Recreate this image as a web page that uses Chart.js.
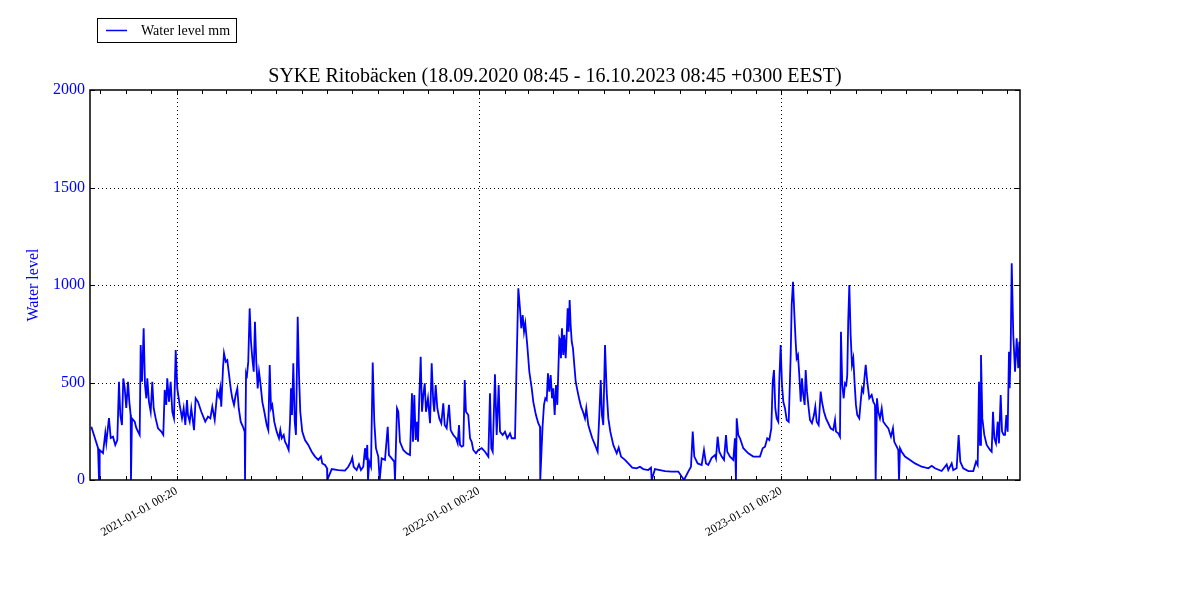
<!DOCTYPE html>
<html>
<head>
<meta charset="utf-8">
<script src="https://cdn.jsdelivr.net/npm/chart.js@4.4.0/dist/chart.umd.min.js"></script>
<style>
body { margin: 0; background: #fff; }
#wrap { width: 1200px; height: 600px; }
</style>
</head>
<body>
<div id="wrap"><canvas id="myChart" width="1200" height="600"></canvas></div>
<script>
const titleText = 'SYKE Ritobäcken (18.09.2020 08:45 - 16.10.2023 08:45 +0300 EEST)';
const seriesLabel = 'Water level mm';
const yTitle = 'Water level';
const yearTickLabels = ['2021-01-01 00:20', '2022-01-01 00:20', '2023-01-01 00:20'];
const yTicks = [0, 500, 1000, 1500, 2000];

// days since 18.09.2020 08:45
const days = [
    1.6, 9.7, 10.9, 11.7, 15.7, 18.5, 19.7, 22.9, 25.0, 27.8,
    30.5, 33.0, 35.0, 36.6, 38.6, 40.2, 41.9, 43.8, 45.9, 47.5,
    49.1, 49.5, 50.7, 54.0, 55.9, 58.0, 60.0, 61.2, 62.8, 64.8,
    66.4, 68.0, 69.2, 71.2, 73.3, 75.2, 76.9, 79.3, 82.1, 86.1,
    88.5, 90.2, 92.1, 93.3, 95.4, 97.4, 99.4, 101.4, 103.5, 105.4,
    108.3, 111.1, 113.1, 115.1, 117.1, 118.3, 120.4, 122.3, 125.6, 127.6,
    130.4, 134.4, 139.2, 142.5, 145.3, 147.7, 150.6, 153.7, 155.8, 157.3,
    158.5, 160.6, 161.8, 163.9, 165.8, 167.5, 169.9, 171.8, 173.9, 175.9,
    177.9, 179.6, 182.0, 184.7, 186.8, 187.2, 188.4, 189.2, 191.1, 192.8,
    194.4, 196.0, 197.7, 199.2, 200.8, 202.5, 204.1, 205.6, 208.1, 210.5,
    213.4, 215.3, 217.0, 218.6, 220.1, 222.5, 225.4, 228.2, 229.8, 231.5,
    233.9, 235.5, 237.5, 239.9, 241.5, 242.7, 243.9, 245.5, 247.2, 248.7,
    250.8, 252.4, 253.9, 256.3, 259.6, 263.6, 267.7, 271.7, 275.7, 278.9,
    280.5, 283.8, 286.2, 286.5, 291.9, 299.8, 307.9, 311.9, 315.2, 316.7,
    318.4, 322.0, 324.8, 327.2, 330.0, 332.1, 333.6, 334.8, 335.7, 337.3,
    339.3, 341.4, 343.3, 345.3, 348.1, 349.8, 352.2, 356.2, 359.5, 361.0,
    364.3, 367.4, 368.3, 370.7, 372.3, 374.3, 378.3, 382.4, 386.4, 388.8,
    390.0, 391.6, 393.3, 394.5, 396.1, 397.6, 399.3, 400.9, 402.5, 404.2,
    405.7, 408.1, 410.6, 412.6, 414.5, 415.7, 417.4, 419.4, 421.8, 424.2,
    426.6, 428.3, 430.7, 433.5, 435.5, 438.7, 442.0, 444.0, 445.6, 446.8,
    448.8, 450.8, 452.5, 454.0, 456.8, 458.9, 460.9, 462.8, 466.1, 468.9,
    473.0, 477.0, 481.0, 483.0, 484.6, 486.3, 489.0, 491.1, 493.5, 495.1,
    498.3, 501.1, 503.9, 507.2, 509.2, 513.2, 515.2, 517.2, 519.2, 520.8,
    522.5, 524.1, 525.6, 528.0, 530.5, 533.4, 535.3, 538.5, 541.3, 543.4,
    543.7, 546.6, 548.2, 549.8, 551.5, 553.0, 554.6, 556.3, 557.9, 559.4,
    561.1, 562.7, 564.3, 566.7, 567.5, 568.7, 569.9, 571.5, 572.7, 574.4,
    575.6, 576.8, 578.0, 579.2, 580.4, 581.7, 583.2, 584.8, 586.5, 588.4,
    590.5, 592.9, 595.3, 597.7, 599.3, 601.7, 604.1, 606.5, 609.8, 613.0,
    615.0, 616.7, 618.2, 619.8, 621.9, 623.9, 625.9, 628.3, 631.9, 636.0,
    638.4, 641.2, 646.0, 650.0, 654.8, 660.1, 664.1, 668.1, 674.1, 677.4,
    678.3, 682.2, 688.3, 694.3, 702.4, 710.4, 717.3, 722.4, 725.7, 727.8,
    729.7, 733.8, 738.6, 741.4, 743.8, 746.6, 750.7, 754.7, 755.9, 757.9,
    759.9, 762.8, 765.6, 768.0, 769.5, 772.8, 776.8, 778.8, 780.0, 780.9,
    782.8, 784.9, 788.9, 794.9, 800.9, 805.0, 809.0, 812.3, 815.1, 817.8,
    820.3, 822.7, 824.4, 825.9, 827.5, 829.2, 831.1, 832.3, 834.0, 835.6,
    837.2, 839.2, 841.3, 843.7, 846.1, 847.3, 848.9, 850.4, 852.1, 853.3,
    854.9, 856.5, 858.2, 859.7, 861.3, 863.0, 864.2, 865.8, 867.8, 869.4,
    871.8, 874.2, 875.8, 877.5, 879.9, 882.3, 883.9, 886.3, 888.7, 891.5,
    894.4, 897.5, 899.6, 900.8, 903.6, 905.6, 906.8, 908.4, 910.1, 911.7,
    913.2, 914.4, 915.6, 916.9, 918.5, 920.1, 921.7, 923.4, 924.9, 926.5,
    928.9, 930.6, 932.2, 933.8, 935.5, 936.7, 938.6, 941.0, 943.9, 945.9,
    947.9, 948.7, 950.3, 951.9, 953.9, 956.0, 957.9, 960.8, 964.0, 967.2,
    969.6, 971.2, 974.1, 976.0, 976.9, 978.1, 980.1, 984.1, 990.2, 996.2,
    1004.3, 1012.3, 1016.4, 1020.3, 1028.4, 1034.5, 1036.4, 1040.5, 1042.4, 1046.5,
    1048.9, 1050.9, 1054.5, 1060.6, 1066.6, 1069.9, 1071.9, 1073.5, 1074.7, 1075.9,
    1077.5, 1079.9, 1082.8, 1086.8, 1088.8, 1090.4, 1092.0, 1094.0, 1096.1, 1097.6,
    1099.7, 1101.3, 1103.3, 1104.9, 1106.5, 1108.1, 1109.7, 1110.5, 1111.7, 1113.0,
    1114.9, 1117.0, 1119.0, 1120.9, 1122.2, 1123.0
];

// water level, mm
const level = [
    273, 164, 0, 154, 138, 241, 190, 318, 215, 222,
    180, 205, 504, 333, 282, 521, 472, 369, 504, 401,
    333, 0, 316, 299, 267, 248, 231, 692, 504, 778,
    487, 419, 521, 401, 350, 504, 368, 316, 265, 248,
    231, 462, 385, 521, 401, 504, 350, 316, 667, 470,
    385, 316, 368, 282, 410, 333, 299, 368, 256, 419,
    401, 350, 299, 325, 316, 376, 308, 453, 427, 470,
    376, 573, 650, 607, 615, 555, 470, 419, 385, 436,
    470, 368, 299, 273, 248, 0, 538, 521, 607, 880,
    709, 624, 555, 812, 607, 470, 555, 504, 401, 350,
    282, 256, 590, 368, 385, 299, 248, 214, 256, 214,
    231, 196, 180, 154, 299, 470, 333, 598, 299, 231,
    837, 538, 350, 248, 205, 180, 145, 120, 103, 120,
    85, 77, 60, 0, 56, 51, 48, 68, 94, 114,
    68, 51, 80, 51, 68, 163, 103, 180, 0, 94,
    68, 603, 299, 163, 120, 0, 111, 103, 273, 128,
    111, 94, 0, 368, 350, 196, 154, 137, 128, 445,
    196, 436, 205, 299, 196, 419, 632, 350, 436, 496,
    350, 419, 291, 598, 401, 350, 487, 368, 316, 291,
    393, 282, 265, 385, 256, 231, 214, 188, 282, 180,
    171, 176, 513, 350, 333, 214, 196, 154, 137, 154,
    163, 145, 120, 445, 163, 145, 542, 231, 487, 248,
    231, 248, 214, 239, 214, 214, 607, 983, 880, 778,
    846, 760, 803, 692, 555, 470, 401, 333, 291, 273,
    0, 282, 385, 419, 410, 547, 453, 538, 419, 470,
    333, 487, 385, 727, 718, 624, 778, 641, 744, 624,
    744, 880, 760, 923, 795, 709, 675, 590, 504, 462,
    419, 376, 350, 316, 368, 282, 248, 214, 180, 145,
    333, 513, 333, 282, 692, 453, 316, 248, 180, 137,
    166, 120, 103, 85, 63, 60, 68, 56, 51, 63,
    0, 56, 51, 46, 43, 43, 0, 43, 68, 248,
    120, 85, 77, 154, 85, 77, 114, 128, 111, 222,
    145, 120, 103, 231, 145, 120, 103, 214, 0, 316,
    231, 214, 163, 137, 120, 120, 120, 163, 171, 214,
    205, 265, 504, 564, 368, 316, 299, 504, 692, 487,
    401, 368, 308, 299, 641, 897, 1017, 863, 709, 624,
    641, 538, 401, 521, 436, 385, 564, 453, 368, 308,
    291, 333, 376, 299, 282, 453, 401, 350, 316, 291,
    265, 256, 308, 248, 239, 222, 760, 487, 419, 496,
    487, 538, 820, 1000, 744, 590, 624, 487, 385, 333,
    316, 401, 470, 453, 538, 590, 504, 419, 436, 401,
    385, 0, 419, 350, 316, 368, 299, 282, 265, 222,
    265, 196, 171, 154, 0, 163, 145, 120, 103, 85,
    68, 60, 73, 60, 46, 80, 51, 85, 51, 60,
    231, 94, 60, 46, 46, 94, 77, 504, 180, 641,
    316, 231, 180, 154, 145, 350, 214, 188, 299, 188,
    436, 248, 231, 231, 333, 248, 658, 470, 658, 1111,
    744, 555, 727, 573, 709, 580
];

const start = Date.UTC(2020, 8, 18, 8, 45);
const totalDays = (Date.UTC(2023, 9, 16, 8, 45) - start) / 864e5;
const monthDays = [];
for (let y = 2020; y <= 2023; y++) {
    for (let m = 0; m < 12; m++) {
        const d = (Date.UTC(y, m, 1) - start) / 864e5;
        if (d > 0 && d < totalDays) monthDays.push(d);
    }
}
const yearTickDays = [2021, 2022, 2023].map(y => (Date.UTC(y, 0, 1) - start) / 864e5);

const serif = '"Liberation Serif", "DejaVu Serif", serif';

const framePlugin = {
    id: 'frame',
    beforeDatasetsDraw(chart) {
        const {ctx, chartArea: a, scales: {x, y}} = chart;
        ctx.save();
        ctx.strokeStyle = '#000';
        ctx.lineWidth = 1;
        ctx.setLineDash([1, 3]);
        yearTickDays.forEach(d => {
            const px = Math.round(x.getPixelForValue(d)) + 0.5;
            ctx.beginPath(); ctx.moveTo(px, a.top); ctx.lineTo(px, a.bottom); ctx.stroke();
        });
        yTicks.slice(1, -1).forEach(v => {
            const py = Math.round(y.getPixelForValue(v)) + 0.5;
            ctx.beginPath(); ctx.moveTo(a.left, py); ctx.lineTo(a.right, py); ctx.stroke();
        });
        ctx.restore();
    },
    afterDatasetsDraw(chart) {
        const {ctx, chartArea: a, scales: {x, y}} = chart;
        ctx.save();
        ctx.strokeStyle = '#000';
        ctx.lineWidth = 1.5;
        ctx.strokeRect(Math.round(a.left), Math.round(a.top),
            Math.round(a.right - a.left), Math.round(a.bottom - a.top));
        ctx.lineWidth = 1;
        ctx.beginPath();
        monthDays.forEach(d => {
            const px = Math.round(x.getPixelForValue(d)) + 0.5;
            ctx.moveTo(px, a.bottom); ctx.lineTo(px, a.bottom - 4);
            ctx.moveTo(px, a.top); ctx.lineTo(px, a.top + 4);
        });
        yTicks.forEach(v => {
            const py = Math.round(y.getPixelForValue(v)) + 0.5;
            ctx.moveTo(a.left, py); ctx.lineTo(a.left + 5, py);
            ctx.moveTo(a.right, py); ctx.lineTo(a.right - 5, py);
        });
        ctx.stroke();
        ctx.restore();
    },
    afterDraw(chart) {
        const {ctx, chartArea: a} = chart;
        ctx.save();
        // title
        ctx.fillStyle = '#000';
        ctx.font = '20px ' + serif;
        ctx.textAlign = 'center';
        ctx.textBaseline = 'middle';
        ctx.fillText(titleText, (a.left + a.right) / 2, 77);
        // legend
        ctx.fillStyle = '#fff';
        ctx.fillRect(97.5, 18.5, 139, 24);
        ctx.strokeStyle = '#000';
        ctx.lineWidth = 1;
        ctx.strokeRect(97.5, 18.5, 139, 24);
        ctx.strokeStyle = '#0000ff';
        ctx.lineWidth = 1.5;
        ctx.beginPath(); ctx.moveTo(106, 30.5); ctx.lineTo(127, 30.5); ctx.stroke();
        ctx.fillStyle = '#000';
        ctx.font = '14px ' + serif;
        ctx.textAlign = 'left';
        ctx.fillText(seriesLabel, 141, 31);
        ctx.restore();
    }
};

const ctx = document.getElementById('myChart').getContext('2d');
const myChart = new Chart(ctx, {
    type: 'line',
    data: {
        datasets: [{
            label: seriesLabel,
            data: days.map((d, i) => ({x: d, y: level[i]})),
            borderColor: '#0000ff',
            borderWidth: 1.8,
            pointRadius: 0,
            fill: false,
            tension: 0
        }]
    },
    options: {
        responsive: false,
        animation: false,
        layout: {padding: {left: 0, right: 180, top: 90, bottom: 0}},
        plugins: {
            legend: {display: false},
            title: {display: false},
            tooltip: {enabled: false}
        },
        scales: {
            x: {
                type: 'linear',
                min: 0,
                max: totalDays,
                grid: {display: false, drawTicks: false},
                border: {display: false},
                afterBuildTicks: s => { s.ticks = monthDays.map(v => ({value: v})); },
                afterFit: s => { s.height = 120; },
                ticks: {
                    autoSkip: false,
                    minRotation: 30,
                    maxRotation: 30,
                    padding: 4,
                    color: '#000',
                    font: {family: serif, size: 12},
                    callback: v => {
                        const i = yearTickDays.findIndex(d => Math.abs(d - v) < 0.01);
                        return i >= 0 ? yearTickLabels[i] : '';
                    }
                }
            },
            y: {
                min: 0,
                max: 2000,
                grid: {display: false, drawTicks: false},
                border: {display: false},
                afterBuildTicks: s => { s.ticks = yTicks.map(v => ({value: v})); },
                afterFit: s => { s.width = 90; },
                ticks: {
                    color: '#0000ff',
                    padding: 5,
                    font: {family: serif, size: 16},
                    callback: v => String(v)
                },
                title: {
                    display: true,
                    text: yTitle,
                    color: '#0000ff',
                    font: {family: serif, size: 16},
                    padding: {top: 24, bottom: 0}
                }
            }
        }
    },
    plugins: [framePlugin]
});
</script>
</body>
</html>
